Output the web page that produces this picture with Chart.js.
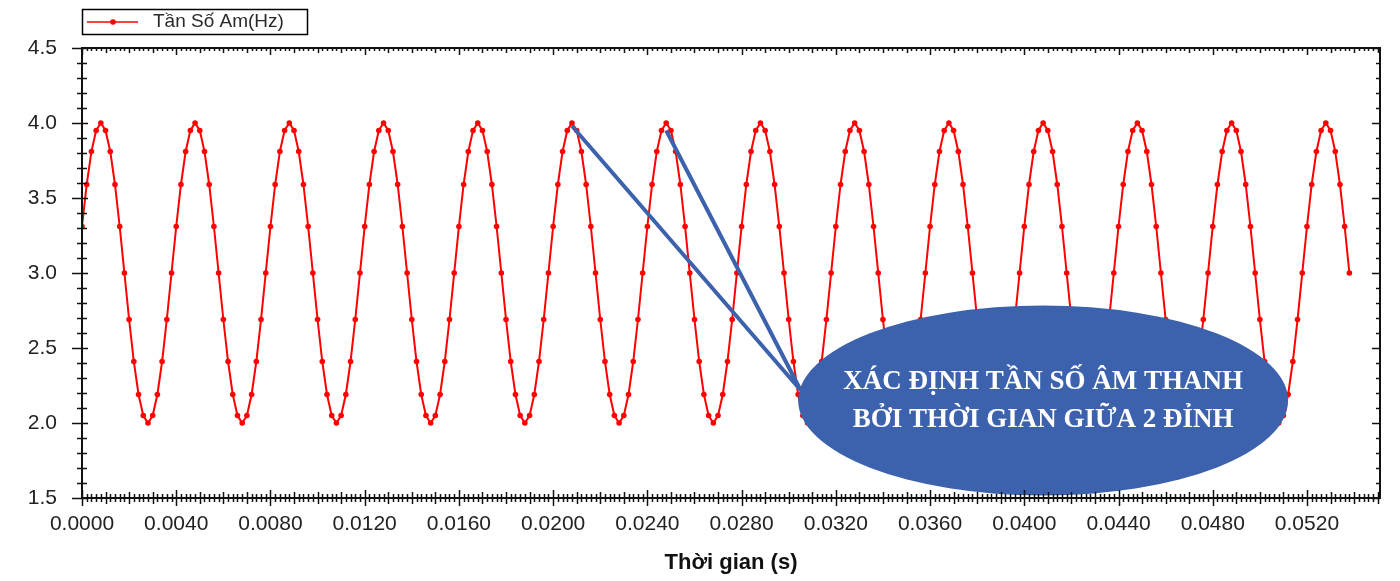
<!DOCTYPE html>
<html lang="vi">
<head>
<meta charset="utf-8">
<title>Tần Số Âm</title>
<script src="https://cdn.jsdelivr.net/npm/chart.js@4.4.1/dist/chart.umd.min.js"></script>
<style>
  html, body { margin: 0; padding: 0; background: #fff; }
  #wrap { width: 1400px; height: 581px; position: relative; }
</style>
</head>
<body>
<div id="wrap"><canvas id="soundChart"></canvas></div>
<script>
// Du lieu doc tu do thi (tan so am, lay mau deu theo thoi gian)
const seriesLabel = 'Tần Số Am(Hz)';
const timeStart = 0;       // s
const timeStep = 0.0002;   // s, khoang cach giua 2 diem do

const amplitude = [
  3.31, 3.59, 3.81, 3.95,
  4.00, 3.95, 3.81, 3.59, 3.31, 3.00, 2.69, 2.41, 2.19, 2.05, 2.00, 2.05, 2.19, 2.41, 2.69, 3.00, 3.31, 3.59, 3.81, 3.95,
  4.00, 3.95, 3.81, 3.59, 3.31, 3.00, 2.69, 2.41, 2.19, 2.05, 2.00, 2.05, 2.19, 2.41, 2.69, 3.00, 3.31, 3.59, 3.81, 3.95,
  4.00, 3.95, 3.81, 3.59, 3.31, 3.00, 2.69, 2.41, 2.19, 2.05, 2.00, 2.05, 2.19, 2.41, 2.69, 3.00, 3.31, 3.59, 3.81, 3.95,
  4.00, 3.95, 3.81, 3.59, 3.31, 3.00, 2.69, 2.41, 2.19, 2.05, 2.00, 2.05, 2.19, 2.41, 2.69, 3.00, 3.31, 3.59, 3.81, 3.95,
  4.00, 3.95, 3.81, 3.59, 3.31, 3.00, 2.69, 2.41, 2.19, 2.05, 2.00, 2.05, 2.19, 2.41, 2.69, 3.00, 3.31, 3.59, 3.81, 3.95,
  4.00, 3.95, 3.81, 3.59, 3.31, 3.00, 2.69, 2.41, 2.19, 2.05, 2.00, 2.05, 2.19, 2.41, 2.69, 3.00, 3.31, 3.59, 3.81, 3.95,
  4.00, 3.95, 3.81, 3.59, 3.31, 3.00, 2.69, 2.41, 2.19, 2.05, 2.00, 2.05, 2.19, 2.41, 2.69, 3.00, 3.31, 3.59, 3.81, 3.95,
  4.00, 3.95, 3.81, 3.59, 3.31, 3.00, 2.69, 2.41, 2.19, 2.05, 2.00, 2.05, 2.19, 2.41, 2.69, 3.00, 3.31, 3.59, 3.81, 3.95,
  4.00, 3.95, 3.81, 3.59, 3.31, 3.00, 2.69, 2.41, 2.19, 2.05, 2.00, 2.05, 2.19, 2.41, 2.69, 3.00, 3.31, 3.59, 3.81, 3.95,
  4.00, 3.95, 3.81, 3.59, 3.31, 3.00, 2.69, 2.41, 2.19, 2.05, 2.00, 2.05, 2.19, 2.41, 2.69, 3.00, 3.31, 3.59, 3.81, 3.95,
  4.00, 3.95, 3.81, 3.59, 3.31, 3.00, 2.69, 2.41, 2.19, 2.05, 2.00, 2.05, 2.19, 2.41, 2.69, 3.00, 3.31, 3.59, 3.81, 3.95,
  4.00, 3.95, 3.81, 3.59, 3.31, 3.00, 2.69, 2.41, 2.19, 2.05, 2.00, 2.05, 2.19, 2.41, 2.69, 3.00, 3.31, 3.59, 3.81, 3.95,
  4.00, 3.95, 3.81, 3.59, 3.31, 3.00, 2.69, 2.41, 2.19, 2.05, 2.00, 2.05, 2.19, 2.41, 2.69, 3.00, 3.31, 3.59, 3.81, 3.95,
  4.00, 3.95, 3.81, 3.59, 3.31, 3.00
];

const xTickValues = [0, 0.004, 0.008, 0.012, 0.016, 0.020, 0.024, 0.028, 0.032, 0.036, 0.040, 0.044, 0.048, 0.052];
const yTickValues = [1.5, 2.0, 2.5, 3.0, 3.5, 4.0, 4.5];
const xTitle = 'Thời gian (s)';

// Chu thich (hinh elip + 2 duong noi toi 2 dinh)
const calloutText = ['XÁC ĐỊNH TẦN SỐ ÂM THANH', 'BỞI THỜI GIAN GIỮA 2 ĐỈNH'];
const calloutPeaks = [[0.0208, 3.98], [0.0248, 3.95]];
const calloutTip = [0.0305, 2.22];
const calloutCenter = [0.0408, 2.15];
const calloutRadius = [0.0104, 0.633];

const BLUE = '#3d62ad';
const RED = '#ff0000';

const points = amplitude.map((v, i) => ({ x: timeStart + i * timeStep, y: v }));

// Vach chia truc kieu Origin + khung + chu giai
const axisFrame = {
    id: 'axisFrame',
    afterDraw(chart) {
        const { ctx, chartArea: a, scales: { x, y } } = chart;
        ctx.save();
        ctx.strokeStyle = '#111';
        ctx.lineWidth = 2;
        ctx.strokeRect(a.left, a.top, a.right - a.left, a.bottom - a.top);

        ctx.lineWidth = 1.5;
        ctx.beginPath();
        for (let i = 0; ; i++) {
            const v = i * 0.0002;
            if (v > x.max) break;
            const px = Math.round(x.getPixelForValue(v)) + 0.5;
            const major = i % 20 === 0, mid = i % 5 === 0;
            const lb = major ? 8 : mid ? 6 : 4;
            ctx.moveTo(px, a.bottom - lb); ctx.lineTo(px, a.bottom + lb);
            const lt = major ? 7 : mid ? 5 : 3;
            ctx.moveTo(px, a.top); ctx.lineTo(px, a.top + lt);
        }
        for (let i = 0; i <= 30; i++) {
            const py = Math.round(y.getPixelForValue(1.5 + i * 0.1)) + 0.5;
            if (i % 5 === 0) {
                ctx.moveTo(a.left - 10, py); ctx.lineTo(a.left + 6, py);
                ctx.moveTo(a.right - 8, py); ctx.lineTo(a.right, py);
            } else {
                ctx.moveTo(a.left - 5, py); ctx.lineTo(a.left + 5, py);
                ctx.moveTo(a.right - 4, py); ctx.lineTo(a.right, py);
            }
        }
        ctx.stroke();

        // chu giai
        ctx.lineWidth = 1.5;
        ctx.strokeStyle = '#000';
        ctx.strokeRect(82.5, 9.5, 225, 25);
        ctx.strokeStyle = RED;
        ctx.beginPath();
        ctx.moveTo(87, 22); ctx.lineTo(138, 22);
        ctx.stroke();
        ctx.fillStyle = RED;
        ctx.beginPath();
        ctx.arc(113, 22, 2.8, 0, Math.PI * 2);
        ctx.fill();
        ctx.fillStyle = '#2a2a2a';
        ctx.font = '19px "Liberation Sans", Arial, sans-serif';
        ctx.textBaseline = 'middle';
        ctx.fillText(seriesLabel, 153, 22);
        ctx.restore();
    }
};

const callout = {
    id: 'callout',
    afterDatasetsDraw(chart) {
        const { ctx, scales: { x, y } } = chart;
        const tx = x.getPixelForValue(calloutTip[0]);
        const ty = y.getPixelForValue(calloutTip[1]);
        ctx.save();
        ctx.strokeStyle = BLUE;
        ctx.lineWidth = 4;
        ctx.beginPath();
        calloutPeaks.forEach(p => {
            ctx.moveTo(x.getPixelForValue(p[0]), y.getPixelForValue(p[1]));
            ctx.lineTo(tx, ty);
        });
        ctx.stroke();

        const cx = x.getPixelForValue(calloutCenter[0]);
        const cy = y.getPixelForValue(calloutCenter[1]);
        const rx = x.getPixelForValue(calloutCenter[0] + calloutRadius[0]) - cx;
        const ry = cy - y.getPixelForValue(calloutCenter[1] + calloutRadius[1]);
        ctx.fillStyle = BLUE;
        ctx.beginPath();
        ctx.ellipse(cx, cy, rx, ry, 0, 0, Math.PI * 2);
        ctx.fill();

        ctx.fillStyle = '#fff';
        ctx.font = 'bold 27px "Liberation Serif", "Times New Roman", serif';
        ctx.textAlign = 'center';
        ctx.textBaseline = 'middle';
        ctx.fillText(calloutText[0], cx, cy - 18);
        ctx.fillText(calloutText[1], cx, cy + 20);
        ctx.restore();
    }
};

document.addEventListener('DOMContentLoaded', function() {
    const ctx = document.getElementById('soundChart');
    new Chart(ctx, {
        type: 'line',
        data: {
            datasets: [{
                label: seriesLabel,
                data: points,
                borderColor: RED,
                borderWidth: 2,
                backgroundColor: RED,
                pointRadius: 2.8,
                pointBorderWidth: 0,
                pointBackgroundColor: RED,
                tension: 0,
                fill: false
            }]
        },
        options: {
            responsive: true,
            maintainAspectRatio: false,
            animation: false,
            layout: { padding: { top: 48, right: 20, left: 0, bottom: 0 } },
            plugins: {
                legend: { display: false },
                tooltip: { enabled: false }
            },
            scales: {
                x: {
                    type: 'linear',
                    min: 0,
                    max: 0.0551,
                    afterBuildTicks: s => { s.ticks = xTickValues.map(v => ({ value: v })); },
                    afterFit: s => { s.height = 83; },
                    ticks: {
                        autoSkip: false,
                        maxRotation: 0,
                        padding: 14,
                        color: '#222',
                        font: { family: '"Liberation Sans", Arial, sans-serif', size: 21 },
                        callback: v => v.toFixed(4)
                    },
                    grid: { display: false, drawTicks: false },
                    border: { display: false },
                    title: {
                        display: true,
                        text: xTitle,
                        color: '#111',
                        font: { family: '"Liberation Sans", Arial, sans-serif', size: 22, weight: 'bold' },
                        padding: { top: 0, bottom: 5 }
                    }
                },
                y: {
                    min: 1.5,
                    max: 4.5,
                    afterBuildTicks: s => { s.ticks = yTickValues.map(v => ({ value: v })); },
                    afterFit: s => { s.width = 82; },
                    ticks: {
                        padding: 25,
                        color: '#222',
                        font: { family: '"Liberation Sans", Arial, sans-serif', size: 21 },
                        callback: v => v.toFixed(1)
                    },
                    grid: { display: false, drawTicks: false },
                    border: { display: false }
                }
            }
        },
        plugins: [callout, axisFrame]
    });
});
</script>
</body>
</html>
